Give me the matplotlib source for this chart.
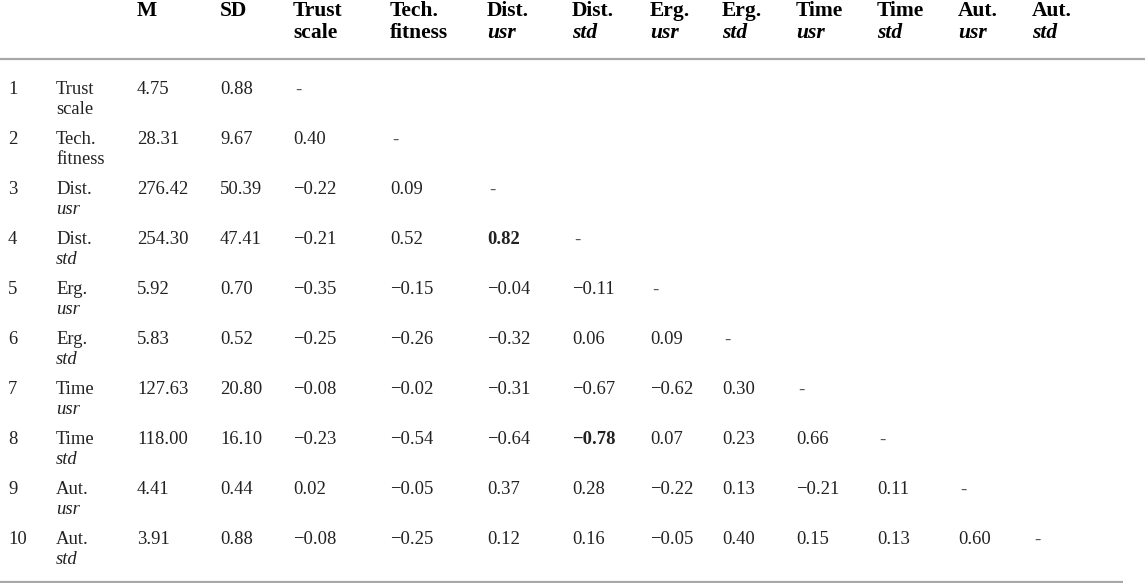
import matplotlib
matplotlib.use("Agg")
import matplotlib.pyplot as plt

# variable names, split over two lines as in the table
name_top = ["Trust", "Tech.", "Dist.", "Dist.", "Erg.", "Erg.", "Time", "Time", "Aut.", "Aut."]
name_sub = ["scale", "fitness", "usr", "std", "usr", "std", "usr", "std", "usr", "std"]
sub_italic = [False, False, True, True, True, True, True, True, True, True]

means = ["4.75", "28.31", "276.42", "254.30", "5.92", "5.83", "127.63", "118.00", "4.41", "3.91"]
sds = ["0.88", "9.67", "50.39", "47.41", "0.70", "0.52", "20.80", "16.10", "0.44", "0.88"]

# lower triangle of the correlation matrix
corr = [
    [],
    [0.40],
    [-0.22, 0.09],
    [-0.21, 0.52, 0.82],
    [-0.35, -0.15, -0.04, -0.11],
    [-0.25, -0.26, -0.32, 0.06, 0.09],
    [-0.08, -0.02, -0.31, -0.67, -0.62, 0.30],
    [-0.23, -0.54, -0.64, -0.78, 0.07, 0.23, 0.66],
    [0.02, -0.05, 0.37, 0.28, -0.22, 0.13, -0.21, 0.11],
    [-0.08, -0.25, 0.12, 0.16, -0.05, 0.40, 0.15, 0.13, 0.60],
]
bold_cells = [(3, 2), (7, 3)]

SERIF = "Liberation Serif"
W, H = 1145, 583

# layout (pixels, text baselines)
x_num, x_name, x_m, x_sd = 8, 56, 137, 220
x_cols = [293, 390, 487, 572, 650, 722, 796, 877, 958, 1032]
y_head1, y_head2 = 16, 38
y_row0, row_step, sub_dy = 94.5, 50, 20
body_fs, head_fs = 13.4, 15.5
body_col = "#222222"


def fmt(v):
    return f"{v:.2f}".replace("-", "\u2212")


fig = plt.figure(figsize=(W / 100, H / 100), dpi=100)
ax = fig.add_axes([0, 0, 1, 1])
ax.set_xlim(0, W)
ax.set_ylim(H, 0)
ax.axis("off")

hkw = dict(family=SERIF, fontsize=head_fs, fontweight="bold", va="baseline", ha="left", color="black")
ax.text(x_m, y_head1, "M", **hkw)
ax.text(x_sd, y_head1, "SD", **hkw)
for j, x in enumerate(x_cols):
    ax.text(x, y_head1, name_top[j], **hkw)
    ax.text(x, y_head2, name_sub[j], style="italic" if sub_italic[j] else "normal", **hkw)

ax.plot([0, W], [59, 59], color="#a8a8a8", lw=1.6, solid_capstyle="butt")
ax.plot([0, 1123], [581.5, 581.5], color="#a8a8a8", lw=1.6, solid_capstyle="butt")

bkw = dict(family=SERIF, fontsize=body_fs, va="baseline", ha="left", color=body_col)
for i in range(len(name_top)):
    y = y_row0 + i * row_step
    ax.text(x_num, y, str(i + 1), **bkw)
    ax.text(x_name, y, name_top[i], **bkw)
    ax.text(x_name, y + sub_dy, name_sub[i], style="italic" if sub_italic[i] else "normal", **bkw)
    ax.text(x_m, y, means[i], **bkw)
    ax.text(x_sd, y, sds[i], **bkw)
    for j, v in enumerate(corr[i]):
        wt = "bold" if (i, j) in bold_cells else "normal"
        ax.text(x_cols[j], y, fmt(v), fontweight=wt, **bkw)
    ax.text(x_cols[i] + 2, y, "-", **dict(bkw, color="#555555"))

fig.savefig("out.png", dpi=100)
